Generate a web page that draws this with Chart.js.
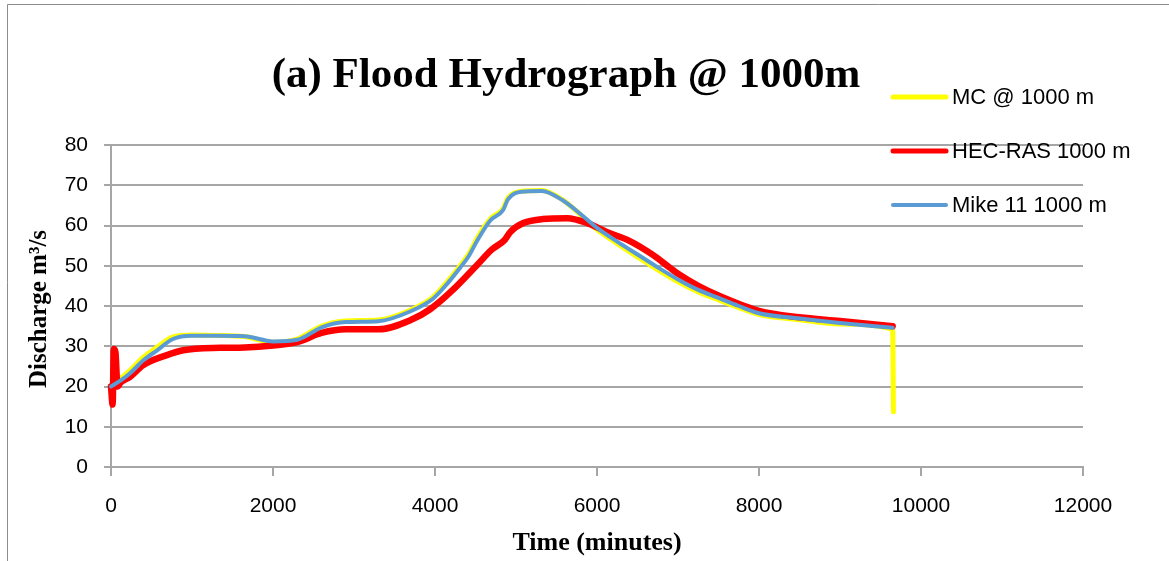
<!DOCTYPE html>
<html>
<head>
<meta charset="utf-8">
<title>Flood Hydrograph @ 1000m</title>
<script src="https://cdn.jsdelivr.net/npm/chart.js@4/dist/chart.umd.min.js"></script>
<style>
  html, body { margin: 0; padding: 0; background: #fff; }
  #wrap { width: 1169px; height: 561px; position: relative; }
</style>
</head>
<body>
<div id="wrap"><canvas id="hydro"></canvas></div>
<script>
'use strict';

/* ─── Data (time in minutes, discharge in m³/s) ─── */
const mcTime   = [0, 120, 235, 400, 570, 765, 1000, 1300, 1650, 2000, 2300, 2600, 2900, 3300, 3700, 3975, 4150, 4310, 4420, 4520, 4680, 4840, 4900, 5070, 5320, 5580, 5800, 6000, 6250, 6500, 6750, 7000, 7250, 7500, 7750, 8000, 8500, 9000, 9650, 9660];
const mcFlow   = [20.2, 22, 24, 27.3, 29.8, 32.3, 32.8, 32.7, 32.4, 31, 31.8, 35, 36.3, 36.5, 39, 42.2, 46, 50, 53, 56.8, 61.6, 64.2, 66.8, 68.5, 68.7, 66.3, 62.6, 59, 55.5, 52.2, 49, 46, 43.5, 41.5, 39.6, 37.9, 36.6, 35.5, 34.2, 13.7];

const hecTime  = [0, 20, 35, 55, 80, 120, 235, 395, 690, 890, 1350, 1650, 2000, 2300, 2600, 2900, 3300, 3700, 3940, 4220, 4520, 4700, 4860, 4930, 5090, 5330, 5630, 5880, 6120, 6400, 6690, 6900, 7000, 7250, 7500, 8000, 8500, 9000, 9650];
const hecFlow  = [20, 15.5, 29.3, 28.5, 20, 21, 22.4, 25.3, 27.8, 29, 29.6, 29.7, 30.2, 31, 33.3, 34.2, 34.2, 36.5, 39.2, 44, 50.2, 54, 56.4, 58.4, 60.6, 61.6, 61.8, 60.6, 58.4, 56.2, 52.7, 49.5, 48, 45, 42.6, 38.8, 37.2, 36.3, 35];

const mikeTime = [0, 120, 235, 400, 570, 765, 1000, 1300, 1650, 2000, 2300, 2600, 2900, 3300, 3700, 3975, 4150, 4310, 4420, 4520, 4680, 4840, 4900, 5070, 5320, 5580, 5800, 6000, 6250, 6500, 6750, 7000, 7250, 7500, 7750, 8000, 8500, 9000, 9650];
const mikeFlow = [20, 21.5, 23.3, 26.5, 29, 31.8, 32.6, 32.6, 32.5, 31.2, 31.6, 34.7, 36, 36.2, 38.7, 41.8, 45.5, 49.5, 52.5, 56.2, 61.2, 63.8, 66.5, 68.4, 68.6, 66.2, 62.8, 59.4, 56, 52.8, 49.6, 46.6, 44, 42, 40, 38.2, 36.9, 35.8, 34.6];

const seriesNames = ['MC @ 1000 m', 'HEC-RAS 1000 m', 'Mike 11 1000 m'];
const seriesColors = ['#FFFF00', '#FF0000', '#5B9BD5'];
const lineWidths = [5, 6.5, 4];

const chartTitle = '(a) Flood Hydrograph @ 1000m';
const xTitle = 'Time (minutes)';
const yTitle = 'Discharge m\u00B3/s';

const GRID = '#a6a6a6';
const SANS = '"Liberation Sans", Arial, sans-serif';
const SERIF = '"Liberation Serif", "Times New Roman", serif';

function pts(xs, ys) { return xs.map((x, i) => ({ x: x, y: ys[i] })); }

/* ─── Titles, legend and frame, drawn like the Excel original ─── */
const decorations = {
  id: 'decorations',
  afterDraw(chart) {
    const ctx = chart.ctx;
    ctx.save();

    // outer frame (left and top edges only are visible in the crop)
    ctx.strokeStyle = '#8c8c8c';
    ctx.lineWidth = 1;
    ctx.beginPath();
    ctx.moveTo(7.5, 561); ctx.lineTo(7.5, 4.5); ctx.lineTo(1169, 4.5);
    ctx.stroke();

    ctx.fillStyle = '#000';
    ctx.textAlign = 'center';
    ctx.textBaseline = 'middle';

    ctx.font = 'bold 43px ' + SERIF;
    ctx.fillText(chartTitle, 566, 76);

    ctx.font = 'bold 26px ' + SERIF;
    ctx.fillText(xTitle, 597, 543);

    ctx.save();
    ctx.translate(40, 309);
    ctx.rotate(-Math.PI / 2);
    ctx.font = 'bold 25px ' + SERIF;
    ctx.fillText(yTitle, 0, 0);
    ctx.restore();

    // legend
    ctx.textAlign = 'left';
    ctx.font = '22px ' + SANS;
    seriesNames.forEach((name, i) => {
      const y = 97 + i * 54;
      ctx.strokeStyle = seriesColors[i];
      ctx.lineWidth = i === 2 ? 4 : 5;
      ctx.lineCap = 'round';
      ctx.beginPath();
      ctx.moveTo(893, y); ctx.lineTo(946, y);
      ctx.stroke();
      ctx.fillStyle = '#000';
      ctx.fillText(name, 952, y + 1);
    });

    ctx.restore();
  }
};

new Chart(document.getElementById('hydro'), {
  type: 'line',
  data: {
    datasets: [
      { label: seriesNames[0], data: pts(mcTime, mcFlow), borderColor: seriesColors[0], borderWidth: lineWidths[0], order: 2 },
      { label: seriesNames[1], data: pts(hecTime, hecFlow), borderColor: seriesColors[1], borderWidth: lineWidths[1], order: 1 },
      { label: seriesNames[2], data: pts(mikeTime, mikeFlow), borderColor: seriesColors[2], borderWidth: lineWidths[2], order: 0 }
    ]
  },
  options: {
    responsive: true,
    maintainAspectRatio: false,
    devicePixelRatio: 1,
    animation: false,
    events: [],
    datasets: {
      line: {
        pointRadius: 0,
        fill: false,
        cubicInterpolationMode: 'monotone',
        borderJoinStyle: 'round',
        borderCapStyle: 'round',
        clip: false
      }
    },
    layout: { padding: { top: 145, right: 86, bottom: 0, left: 0 } },
    plugins: {
      legend: { display: false },
      title: { display: false },
      tooltip: { enabled: false }
    },
    scales: {
      x: {
        type: 'linear',
        min: 0, max: 12000,
        afterFit(s) { s.height = 94; },
        ticks: { stepSize: 2000, padding: 18, color: '#000', font: { family: SANS, size: 21 }, maxRotation: 0,
                 callback: v => String(v) },
        grid: { drawOnChartArea: false, drawTicks: true, tickLength: 9, color: GRID, lineWidth: 2 },
        border: { color: GRID, width: 2 }
      },
      y: {
        min: 0, max: 80,
        afterFit(s) { s.width = 111; },
        ticks: { stepSize: 10, padding: 16, color: '#000', font: { family: SANS, size: 21 },
                 callback: v => String(v) },
        grid: { drawOnChartArea: true, drawTicks: true, tickLength: 7, color: GRID, lineWidth: 2 },
        border: { color: GRID, width: 2 }
      }
    }
  },
  plugins: [decorations]
});
</script>
</body>
</html>
